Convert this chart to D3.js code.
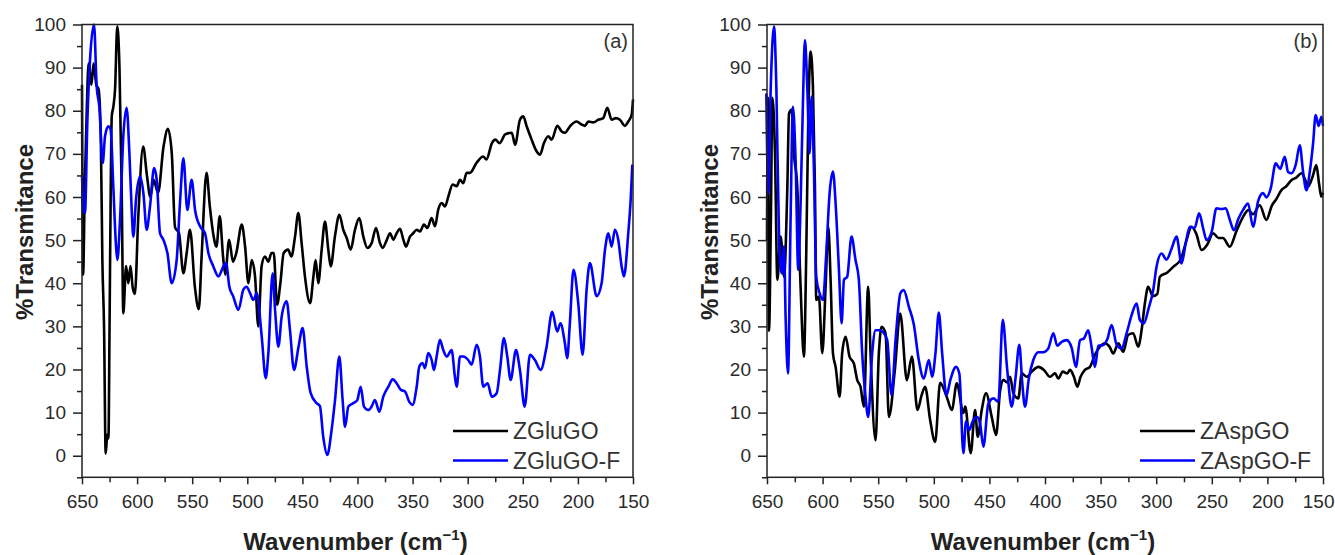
<!DOCTYPE html>
<html><head><meta charset="utf-8">
<script src="https://cdn.jsdelivr.net/npm/d3@7"></script>
<style>
html,body{margin:0;padding:0;background:#fff;}
svg{display:block;font-family:"Liberation Sans",Arial,sans-serif;}
</style></head>
<body>
<svg id="chart" width="1335" height="555"></svg>
<script>
// ---------- data (wavenumber cm^-1, % transmittance) ----------
const xMajorTicks = [650,600,550,500,450,400,350,300,250,200,150];
const xMinorTicks = [625,575,525,475,425,375,325,275,225,175];
const yMajorTicks = [0,10,20,30,40,50,60,70,80,90,100];
const yMinorTicks = [-5,5,15,25,35,45,55,65,75,85,95];
const legendA = ["ZGluGO","ZGluGO-F"];
const legendB = ["ZAspGO","ZAspGO-F"];

const zGluGO = [[650,86],[649,42],[647.5,62],[645.7,80],[644,91],[641.5,86],[639.5,91],[637,86],[635,85],[633,75],[631.5,45],[630,30],[628.5,0.5],[627,5],[626,4],[625,30],[624,60],[623,78.7],[621.5,81],[620,85],[618,99.6],[616,90],[614,62],[612.5,33],[610,44],[608,40],[606,44],[604,39],[602,37.5],[599,55],[594.5,71.7],[591,64.8],[588,60],[585,64],[581,61],[576,71.7],[572,75.8],[568.5,70],[565.6,53],[562,51.6],[558,42.3],[555,47],[552,52.4],[547.5,39],[544,34],[541.5,46],[537,65.6],[534,57.8],[531,51.6],[528,48.5],[525,55.5],[522,46.2],[520,42],[516.5,50.1],[513,45],[510,47],[505,53.6],[502,48.5],[499,40],[496,45.4],[493,41.6],[490,30],[487,44],[484,46.2],[481,45],[478,47],[476,47],[473,35],[470,40],[467,47],[463,47.8],[460,46.2],[456.7,50.8],[453.7,56.3],[450.7,49.3],[447.7,41.6],[443,35.4],[440,41.6],[438,45.4],[435.6,40],[432.5,47.8],[429.5,54.3],[426.5,47.8],[424.3,43.9],[420.4,51],[416.5,55.9],[412.9,52.4],[409.8,50.5],[406.2,47.8],[402.3,52.4],[398.4,55.1],[394.7,50.8],[391.1,48.2],[387.2,49.3],[383.2,52.8],[379.6,49.3],[377.2,48.2],[373.5,50],[370.5,51.6],[367.5,50.1],[364.5,51.6],[361.4,52.6],[358.4,50.1],[356,48.5],[352.4,50.8],[349.4,51.6],[346.3,52.4],[343.3,52],[339.7,53.6],[336.7,52.8],[332.7,55.1],[329.7,53.2],[326.7,57.1],[323.6,58.6],[320.6,57.8],[317.6,60.1],[313.6,62.9],[310,62.5],[307,64],[304,63.2],[301,65.6],[298,65.6],[292,67.9],[286,69.4],[283,68.7],[278,72.5],[275,73.3],[271,72.5],[266,74.5],[260,74.9],[257,72.1],[252.6,77.9],[249.6,78.7],[246.5,76.4],[242,73.3],[237.5,70.6],[234.4,69.8],[230.8,72.5],[226.9,74.1],[223.8,73.3],[218.7,76.5],[214.7,75.2],[211.7,74.9],[207.2,76.4],[201.2,77.5],[196.6,76.8],[193.6,76.5],[190.6,77.5],[186.1,77.3],[181.5,77.9],[177,78.3],[173.3,80.7],[169.4,77.9],[165.5,78.3],[161.9,77.9],[157.3,76.5],[154.3,77.5],[151.2,79.1],[150,82.6]];

const zGluGOF = [[650,65],[648.5,57],[647.3,56.3],[645.1,77.9],[642.7,91.9],[639.1,100],[636.7,85.7],[634.3,81],[631.2,67.9],[629.1,74.1],[626.1,76.4],[624,75.6],[621.6,62.5],[619.1,48.5],[617.9,45.4],[615.5,54.7],[612.5,74.1],[609.5,80.7],[607,70.2],[604.9,57],[603.4,50.8],[601,59.4],[597.3,64.8],[594.3,60.9],[591.3,52.4],[588.3,57.8],[584.6,66.7],[582.2,64],[579.2,51.6],[576.2,50.1],[572.5,47],[568.6,40],[564.1,45.4],[561.1,58.6],[558,69],[554.4,57],[550.5,64],[547.4,57],[542.9,53.2],[538.4,51.6],[535.3,47],[530.8,43.9],[526.3,41.6],[521.7,43.9],[519.3,44.7],[516.3,39.2],[512.7,36.9],[508.1,33.8],[503.6,38.5],[500.6,39.2],[497.5,37.7],[494.5,36.1],[491.5,37.7],[486.9,27.6],[483.3,18],[480.9,23.8],[477,42.3],[474.8,33.8],[471.8,25.3],[468.8,32.3],[464.3,35.8],[461.3,29.2],[457.6,19.9],[453.7,25],[449.8,29.6],[446.1,20.7],[442.5,14.5],[437.1,12.2],[434.1,11.5],[431.1,4.4],[427.4,0.2],[423.5,6],[420.4,12.9],[416.5,23],[413.5,12.9],[411.3,6.7],[408.3,11.4],[403.8,12.2],[400.2,12.9],[397.1,16],[394.1,11.4],[390.2,10.6],[387.2,11.4],[384.2,12.9],[380.2,10.2],[376.6,13.7],[372,16],[368.1,17.7],[364.5,16.8],[360.8,15.3],[356.9,14.9],[353,12.5],[350,11.8],[346.3,16],[343.9,20.7],[340.9,21.5],[338.8,20.3],[335.8,23.8],[332.7,22.2],[330.6,19.9],[328.2,23],[325.2,26.9],[322.2,24.5],[319.1,23],[314.6,24.5],[311.6,18.3],[310,16],[307,23],[304,23],[299.5,22.2],[296.4,21.1],[291.9,25.7],[288.9,23],[285.9,16],[281.9,16.8],[278.2,13.7],[273.7,14.5],[270.7,19.9],[267.1,27.3],[264.1,23],[261,17.6],[256.2,24.5],[252.6,19.9],[248.3,11.4],[243.5,23.4],[239,22.2],[233.8,19.9],[228.4,25.3],[223.3,33.4],[218.8,28.8],[215.8,30.7],[211.8,26.1],[209.7,22.6],[207.3,30.7],[204,43.1],[199.7,35.4],[195.7,23.4],[192.1,38.5],[189.1,44.7],[183,37],[178.5,40],[175.4,47.8],[172.4,51.6],[169.4,48.5],[166.4,52.4],[163.4,50.1],[160.3,43.9],[158.2,41.6],[154.3,51.6],[152.1,59.4],[150.6,67.5]];

const zAspGO = [[650,50],[649.2,83],[648.2,29],[646.5,55],[645.2,83],[642.8,70],[640.7,40.8],[637.7,50.8],[634.7,41.5],[631.7,62.4],[630.2,79.4],[627.9,80.2],[625.8,70.1],[622.8,62.4],[619.8,39.2],[616.8,23],[614.7,47],[612.9,77.9],[610.8,93.7],[608.7,85.6],[606.9,62.4],[605.7,36.1],[603.3,36.9],[600.3,23.8],[597.3,39.2],[594.9,53.1],[592.8,40.8],[590.7,23.8],[588.3,20.6],[584.7,13.7],[582.4,23.8],[579.3,27.6],[575.8,23],[571.9,21.4],[568.9,17.6],[565.9,16],[562.9,11.4],[559,39.2],[556.9,23.8],[552.4,3.6],[549.4,23.8],[547,29.9],[543.4,28.4],[540.4,9],[535,20],[530.2,33],[524.2,17.5],[519.7,23],[514.7,10.6],[511,14],[507.8,16],[503.3,8.3],[498.8,3.2],[494.3,16.9],[488.4,13.7],[483.8,10.6],[479.3,16.8],[473.4,9.9],[471.7,11.4],[466.8,0.6],[462.9,10.6],[460.5,4.4],[456.9,10.6],[453,14.5],[447.9,9],[444,4.8],[440.4,15],[437.5,17.6],[434,17],[431.4,18.3],[428.5,14.5],[424,13.3],[420.9,19.1],[416.4,18.3],[411.9,19.5],[406,20.6],[401,19.9],[395.5,18.3],[391,19.1],[388,17.9],[384,19.5],[380,19.1],[377.5,19.9],[374,18.3],[371,16],[368,18.3],[364.1,19.9],[359.6,20.6],[355.1,23.4],[350.6,25.3],[346.1,26.1],[342,25.3],[338.6,23.7],[334.1,26.1],[329.7,24.1],[325.2,28],[320.7,28.4],[316.2,25.3],[313.1,29.2],[310.2,35.3],[307.2,39.2],[303,37],[299,37.5],[296.7,41.5],[290,42.5],[284.7,43.8],[278,45.5],[272.7,50],[268.2,53.1],[264,51.5],[259.2,47.7],[254,49],[248.8,51.6],[244,50.5],[240,50.5],[233.8,48.5],[228,52],[221.9,55.4],[217,57],[213,56],[206.9,58.1],[200.9,54.7],[196,58],[192,59.5],[187.4,61.6],[183,62.5],[178.4,63.9],[174,64.5],[169.4,65.5],[166,64],[163.5,62.4],[159,65],[156,67.4],[153.5,63],[151.5,60.1],[150,61]];

const zAspGOF = [[650.6,84],[648.8,60.9],[646.7,84.8],[643.7,99.5],[641.6,85.6],[639.2,50.8],[636.8,42.3],[634.7,48.5],[633.2,31.5],[631.1,19.1],[628.8,54.7],[626.7,80.9],[624.3,68.6],[621.9,43.1],[619.8,58.5],[617.7,81.7],[615.9,96.4],[613.8,85.6],[611.7,70.1],[609.9,83.3],[607.8,66.3],[605.7,41.5],[602.7,37.7],[599.7,36.1],[596.7,46.9],[593.7,60.9],[590.7,65.9],[588.3,58.5],[585.3,43.1],[582.9,30.7],[580.8,40.8],[577.9,41.5],[574,50.8],[570.4,45.4],[567.4,40.8],[564.4,23.8],[561.4,13.7],[559,9],[555.4,23.8],[552.4,29.1],[547.9,29.1],[544.9,28.4],[541.9,26.8],[538,14],[534.4,26.8],[530,37.7],[527,38.4],[522.5,34.6],[518,30.5],[513.5,22.2],[509,17.9],[504.5,22.2],[501.5,18.3],[498.5,23.8],[495.5,33.2],[492.5,23.8],[488.6,14],[485.1,17.6],[480,20.6],[477,19],[473.4,0.6],[471,8],[468,6],[465,8],[461,9],[458.4,7.5],[455.4,2.1],[451,12],[446.4,13.3],[442,12.5],[438,31.5],[434,20],[430,11.4],[426.5,18],[423.1,25.7],[420.5,17],[418,11.4],[414.5,18],[410.5,22.2],[406,24],[401.5,24],[397,24.9],[392.5,28.4],[389,25.5],[385,26.4],[380.5,26.8],[376,25],[372.2,20.6],[368.5,26.8],[365,27.2],[361.1,29.1],[358,25],[355.1,20.6],[352,25.5],[347.5,25.7],[344,27],[340.1,30.3],[335.5,25.7],[331.1,24.9],[326.5,28.5],[322.1,32.6],[317.6,35.3],[314.7,31.5],[311.1,30.7],[307,34],[302.7,38.4],[299.7,43.8],[295.2,46.9],[290.7,45.5],[286.2,48],[281.7,50.8],[277.2,44.6],[273.3,49.5],[269.8,53.1],[265.5,52.8],[261.4,56.2],[257.5,52.4],[254.7,50],[250,52],[245.8,57.4],[241.3,57.2],[237.5,57.4],[233.8,54.7],[230.2,52.3],[226,55],[221.9,57],[217.4,58.5],[212.9,53.1],[208.4,59],[203.9,60.9],[200.9,59.9],[197,62],[192.5,67.8],[188.5,66.5],[184.4,69.3],[181.4,65.8],[178.4,65.5],[174.5,67.5],[170.9,72],[167.9,65.8],[164.9,61.6],[161.9,65.8],[158.9,72.5],[156.6,79],[153.9,76.5],[151.5,78.6],[150,76.5]];

// ---------- drawing ----------
const svg = d3.select("#chart");
const FONT = '"Liberation Sans", Arial, sans-serif';
const y = d3.scaleLinear().domain([-5,100]).range([477.3,24.5]);

function drawPanel(cfg){
  const x = d3.scaleLinear().domain([650,150]).range([cfg.left,cfg.right]);
  const g = svg.append("g");
  const top = y(100), bottom = y(-5);

  // data lines
  const line = d3.line().x(d=>x(d[0])).y(d=>y(d[1])).curve(d3.curveMonotoneX);
  cfg.series.forEach(s=>{
    g.append("path").datum(s.data)
      .attr("d",line).attr("fill","none")
      .attr("stroke",s.color).attr("stroke-width",2.6)
      .attr("stroke-linejoin","round");
  });

  // frame
  g.append("rect").attr("x",cfg.left).attr("y",top)
    .attr("width",cfg.right-cfg.left).attr("height",bottom-top)
    .attr("fill","none").attr("stroke","#222").attr("stroke-width",1.5);

  // y axis
  const ya = g.append("g").attr("transform",`translate(${cfg.left},0)`)
    .call(d3.axisLeft(y).tickValues(yMajorTicks).tickSize(9).tickSizeOuter(0).tickPadding(7));
  const ym = g.append("g").attr("transform",`translate(${cfg.left},0)`)
    .call(d3.axisLeft(y).tickValues(yMinorTicks).tickSize(5).tickSizeOuter(0).tickFormat(""));
  // x axis
  const xa = g.append("g").attr("transform",`translate(0,${bottom})`)
    .call(d3.axisBottom(x).tickValues(xMajorTicks).tickSize(7).tickSizeOuter(0).tickPadding(10));
  const xm = g.append("g").attr("transform",`translate(0,${bottom})`)
    .call(d3.axisBottom(x).tickValues(xMinorTicks).tickSize(5).tickSizeOuter(0).tickFormat(""));
  [ya,ym,xa,xm].forEach(a=>{
    a.select(".domain").remove();
    a.selectAll("line").attr("stroke","#222").attr("stroke-width",1.5);
    a.selectAll("text").attr("font-family",FONT).attr("font-size",19).attr("fill","#2a2a2a");
  });
  // keep the last x label inside the page
  xa.selectAll(".tick").filter(d=>d===150).select("text")
    .attr("text-anchor", cfg.right > 1300 ? "end" : "middle")
    .attr("x", cfg.right > 1300 ? 1334 - cfg.right : 0);

  // axis titles
  svg.append("text").attr("transform",`translate(${cfg.left-49},232) rotate(-90)`)
    .attr("text-anchor","middle").attr("font-family",FONT).attr("font-weight","bold")
    .attr("font-size",24).attr("fill","#222").text("%Transmitance");
  const xt = svg.append("text").attr("x",(cfg.left+cfg.right)/2-2).attr("y",550)
    .attr("text-anchor","middle").attr("font-family",FONT).attr("font-weight","bold")
    .attr("font-size",24).attr("fill","#222");
  xt.append("tspan").text("Wavenumber (cm");
  xt.append("tspan").attr("font-size",15).attr("dy",-10).text("\u22121");
  xt.append("tspan").attr("dy",10).text(")");

  // panel tag
  svg.append("text").attr("x",cfg.right-5).attr("y",48).attr("text-anchor","end")
    .attr("font-family",FONT).attr("font-size",20).attr("fill","#333").text(cfg.tag);

  // legend
  cfg.series.forEach((s,i)=>{
    const ly = 431 + i*29.5;
    g.append("line").attr("x1",cfg.legendX).attr("x2",cfg.legendX+55)
      .attr("y1",ly).attr("y2",ly).attr("stroke",s.color).attr("stroke-width",2.6);
    g.append("text").attr("x",cfg.legendX+60).attr("y",ly+8)
      .attr("font-family",FONT).attr("font-size",23).attr("fill","#333").text(s.name);
  });
}

drawPanel({left:82,right:633,tag:"(a)",legendX:453,
  series:[{name:legendA[0],data:zGluGO,color:"#000000"},{name:legendA[1],data:zGluGOF,color:"#0000ff"}]});
drawPanel({left:767,right:1323,tag:"(b)",legendX:1140,
  series:[{name:legendB[0],data:zAspGO,color:"#000000"},{name:legendB[1],data:zAspGOF,color:"#0000ff"}]});
</script>
</body></html>
